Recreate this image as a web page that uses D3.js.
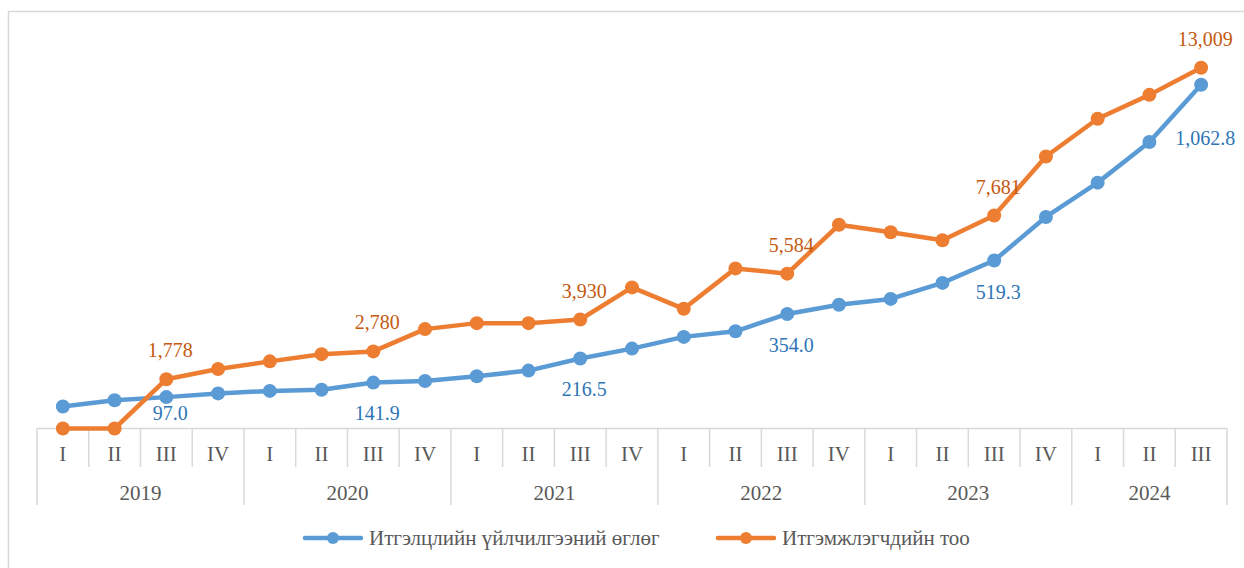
<!DOCTYPE html>
<html>
<head>
<meta charset="utf-8">
<script src="https://cdn.jsdelivr.net/npm/d3@7"></script>
<style>
  html, body { margin: 0; padding: 0; background: #fff; }
  svg { display: block; font-family: "Liberation Serif", "Times New Roman", serif; }
</style>
</head>
<body>
<svg id="chart" width="1244" height="568"></svg>
<script>
// data
const years = ['2019', '2020', '2021', '2022', '2023', '2024'];
const quarterNames = ['I', 'II', 'III', 'IV'];
const quartersPerYear = [4, 4, 4, 4, 4, 3];

const trustLabel = 'Итгэлцлийн үйлчилгээний өглөг';
const trustValues = [
  68.0, 87.2, 97.0, 108.5,
  116.2, 119.6, 141.9, 146.8,
  161.4, 179.0, 216.5, 247.0,
  283.2, 300.5, 354.0, 382.4,
  400.6, 450.0, 519.3, 653.8,
  760.0, 885.6, 1062.8,
];

const clientLabel = 'Итгэмжлэгчдийн тоо';
const clientValues = [
  0, 0, 1778, 2147,
  2421, 2681, 2780, 3584,
  3800, 3800, 3930, 5088,
  4316, 5774, 5584, 7347,
  7077, 6788, 7681, 9809,
  11169, 12032, 13009,
];

// build categories
const categories = [];
years.forEach((y, yi) => {
  for (let q = 0; q < quartersPerYear[yi]; q++) {
    categories.push({ year: y, quarter: quarterNames[q], key: `${y}-${quarterNames[q]}` });
  }
});

const blue = '#5B9BD5';
const orange = '#ED7D31';
const blueText = '#2E75B6';
const orangeText = '#C55A11';
const axisColor = '#D9D9D9';
const textColor = '#595959';

const svg = d3.select('#chart');

// chart border
svg.append('rect')
  .attr('x', 8.5).attr('y', 11.5)
  .attr('width', 1240).attr('height', 600)
  .attr('fill', 'none')
  .attr('stroke', axisColor)
  .attr('stroke-width', 1.5);

const plot = { left: 37, right: 1227, top: 40.3, bottom: 428.5 };

const x = d3.scaleBand()
  .domain(categories.map(d => d.key))
  .range([plot.left, plot.right]);
const cx = i => x(categories[i].key) + x.bandwidth() / 2;

const yTrust = d3.scaleLinear().domain([0, 1200]).range([plot.bottom, plot.top]);
const yClient = d3.scaleLinear().domain([0, 14000]).range([plot.bottom, plot.top]);

// category axis
const axisG = svg.append('g');
axisG.append('line')
  .attr('x1', plot.left).attr('x2', plot.right)
  .attr('y1', plot.bottom).attr('y2', plot.bottom)
  .attr('stroke', axisColor).attr('stroke-width', 1.5);

// quarter dividers
categories.forEach((c, i) => {
  const xl = x(c.key);
  const yearStart = c.quarter === 'I';
  axisG.append('line')
    .attr('x1', xl).attr('x2', xl)
    .attr('y1', plot.bottom).attr('y2', yearStart ? 505 : 467)
    .attr('stroke', axisColor).attr('stroke-width', 1.5);
  axisG.append('text')
    .attr('x', cx(i)).attr('y', 454)
    .attr('text-anchor', 'middle').attr('dominant-baseline', 'central')
    .attr('font-size', 21).attr('fill', textColor)
    .text(c.quarter);
});
axisG.append('line')
  .attr('x1', plot.right).attr('x2', plot.right)
  .attr('y1', plot.bottom).attr('y2', 505)
  .attr('stroke', axisColor).attr('stroke-width', 1.5);

// year labels
let start = 0;
years.forEach((y, yi) => {
  const n = quartersPerYear[yi];
  const x0 = x(categories[start].key);
  const x1 = x(categories[start + n - 1].key) + x.bandwidth();
  axisG.append('text')
    .attr('x', (x0 + x1) / 2).attr('y', 493)
    .attr('text-anchor', 'middle').attr('dominant-baseline', 'central')
    .attr('font-size', 21).attr('fill', textColor)
    .text(y);
  start += n;
});

// series
const series = [
  { values: trustValues, y: yTrust, color: blue, textColor: blueText, below: true, fmt: d3.format(',.1f') },
  { values: clientValues, y: yClient, color: orange, textColor: orangeText, below: false, fmt: d3.format(',') },
];

series.forEach(s => {
  const line = d3.line()
    .x((d, i) => cx(i))
    .y(d => s.y(d));
  const g = svg.append('g');
  g.append('path')
    .datum(s.values)
    .attr('d', line)
    .attr('fill', 'none')
    .attr('stroke', s.color)
    .attr('stroke-width', 4.5)
    .attr('stroke-linejoin', 'round');
  g.selectAll('circle')
    .data(s.values)
    .enter()
    .append('circle')
    .attr('cx', (d, i) => cx(i))
    .attr('cy', d => s.y(d))
    .attr('r', 7)
    .attr('fill', s.color);
});

// data labels on third quarter of each year
series.forEach(s => {
  const last = s.values.length - 1;
  categories.forEach((c, i) => {
    if (c.quarter !== 'III') return;
    const py = s.y(s.values[i]);
    let ly = s.below ? Math.min(py + 31, 413) : py - 29;
    let lx = cx(i) + 4;
    if (s.below && i === last) ly = py + 53;
    svg.append('text')
      .attr('x', lx).attr('y', ly)
      .attr('text-anchor', 'middle').attr('dominant-baseline', 'central')
      .attr('font-size', 20).attr('fill', s.textColor)
      .text(s.fmt(s.values[i]));
  });
});

// legend
const legend = [
  { label: trustLabel, color: blue, x: 305 },
  { label: clientLabel, color: orange, x: 718 },
];
const lg = svg.append('g');
legend.forEach(l => {
  lg.append('line')
    .attr('x1', l.x).attr('x2', l.x + 56)
    .attr('y1', 538).attr('y2', 538)
    .attr('stroke', l.color).attr('stroke-width', 4.5)
    .attr('stroke-linecap', 'round');
  lg.append('circle')
    .attr('cx', l.x + 28).attr('cy', 538).attr('r', 6)
    .attr('fill', l.color);
  lg.append('text')
    .attr('x', l.x + 64).attr('y', 538)
    .attr('dominant-baseline', 'central')
    .attr('font-size', 21).attr('fill', textColor)
    .text(l.label);
});
</script>
</body>
</html>
